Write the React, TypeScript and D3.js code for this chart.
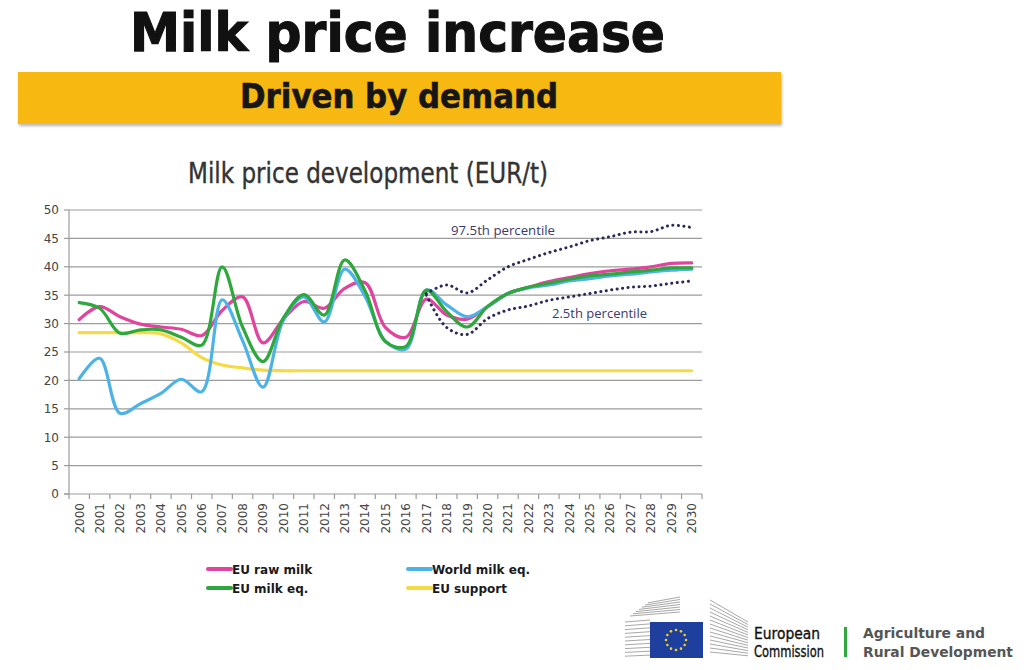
import React from 'react';
import * as d3 from 'd3';

const years = [2000, 2001, 2002, 2003, 2004, 2005, 2006, 2007, 2008, 2009, 2010, 2011, 2012, 2013, 2014, 2015, 2016, 2017, 2018, 2019, 2020, 2021, 2022, 2023, 2024, 2025, 2026, 2027, 2028, 2029, 2030];

const euRawMilk = [30.7, 33.0, 31.2, 29.9, 29.4, 29.0, 27.9, 32.3, 34.7, 26.6, 30.8, 33.9, 32.7, 36.2, 37.2, 29.3, 27.6, 34.3, 31.5, 30.8, 33.0, 35.3, 36.4, 37.4, 38.1, 38.8, 39.3, 39.6, 40.0, 40.6, 40.7];
const worldMilkEq = [20.3, 23.9, 14.2, 15.9, 17.7, 20.2, 18.0, 34.2, 27.0, 18.8, 30.6, 34.7, 30.3, 39.6, 34.8, 26.9, 25.5, 35.9, 33.3, 31.2, 33.0, 35.3, 36.3, 36.8, 37.5, 37.9, 38.4, 38.7, 39.1, 39.4, 39.6];
const euMilkEq = [33.7, 32.7, 28.3, 28.9, 28.9, 27.6, 26.2, 40.0, 29.4, 23.3, 31.0, 35.1, 31.5, 41.2, 35.8, 26.8, 26.0, 35.9, 32.1, 29.4, 33.0, 35.3, 36.4, 37.1, 37.8, 38.4, 38.7, 39.1, 39.4, 39.8, 39.8];
const euSupport = [28.4, 28.4, 28.4, 28.4, 28.2, 26.6, 24.0, 22.7, 22.2, 21.8, 21.7, 21.7, 21.7, 21.7, 21.7, 21.7, 21.7, 21.7, 21.7, 21.7, 21.7, 21.7, 21.7, 21.7, 21.7, 21.7, 21.7, 21.7, 21.7, 21.7, 21.7];

const pctYears = [2017, 2018, 2019, 2020, 2021, 2022, 2023, 2024, 2025, 2026, 2027, 2028, 2029, 2030];
const p975 = [35.3, 36.8, 35.4, 37.7, 40.0, 41.3, 42.5, 43.5, 44.6, 45.3, 46.1, 46.2, 47.3, 46.9];
const p025 = [35.0, 29.3, 28.1, 30.9, 32.4, 33.1, 34.1, 34.7, 35.3, 35.9, 36.4, 36.6, 37.1, 37.5];

const yTicks = [0, 5, 10, 15, 20, 25, 30, 35, 40, 45, 50];

const seriesNames = ['EU raw milk', 'World milk eq.', 'EU milk eq.', 'EU support'];
const seriesColors = ['#e0449e', '#4db3e6', '#2ea83c', '#f6da45'];

export default function App() {
  const W = 1024, H = 670;
  const x = d3.scaleBand<number>().domain(years).range([69, 702]).paddingInner(0).paddingOuter(0);
  const cx = (yr: number) => (x(yr) as number) + x.bandwidth() / 2;
  const y = d3.scaleLinear().domain([0, 50]).range([494, 210]);

  const mk = (xs: number[]) =>
    d3.line<number>().x((_, i) => cx(xs[i])).y((d) => y(d)).curve(d3.curveCatmullRom.alpha(0.5));

  const mainLine = mk(years);
  const pctLine = mk(pctYears);

  const series = [euRawMilk, worldMilkEq, euMilkEq, euSupport];
  const drawOrder = [3, 0, 1, 2];

  const axisFont = 'DejaVu Sans, Verdana, sans-serif';
  const boundaries = [...years.map((yr) => x(yr) as number), 702];

  const legendItems = [
    { i: 0, lx: 208, ly: 569 },
    { i: 1, lx: 408, ly: 569 },
    { i: 2, lx: 208, ly: 588 },
    { i: 3, lx: 408, ly: 588 },
  ];

  const stars = d3.range(12).map((k) => {
    const a = (k / 12) * Math.PI * 2;
    return { sx: 676 + Math.sin(a) * 10, sy: 640 - Math.cos(a) * 10 };
  });

  return (
    <svg width={W} height={H} style={{ position: 'absolute', left: 0, top: 0, background: '#fff' }}>
      <defs>
        <filter id="sh" x="-5%" y="-20%" width="110%" height="160%">
          <feGaussianBlur stdDeviation="1.5" />
        </filter>
      </defs>
      <rect x={0} y={0} width={W} height={H} fill="#fff" />

      {/* Title */}
      <text x={130} y={51} fontFamily="DejaVu Sans, sans-serif" fontWeight={700}
        fontSize={54} fill="#111" stroke="#111" strokeWidth={1.2} textLength={535} lengthAdjust="spacingAndGlyphs">Milk price increase</text>

      {/* Banner */}
      <rect x={19} y={74} width={763} height={52} fill="#999" filter="url(#sh)" opacity={0.7} />
      <rect x={18} y={72} width={763} height={52} fill="#f6b811" />
      <text x={240} y={108} fontFamily="DejaVu Sans, sans-serif" fontWeight={700}
        fontSize={33} fill="#161616" stroke="#161616" strokeWidth={0.6} textLength={318} lengthAdjust="spacingAndGlyphs">Driven by demand</text>

      {/* Subtitle */}
      <text x={188} y={183} fontFamily="DejaVu Sans, sans-serif"
        fontSize={29} fill="#333" stroke="#333" strokeWidth={0.4} textLength={360} lengthAdjust="spacingAndGlyphs">Milk price development (EUR/t)</text>

      {/* Gridlines */}
      {yTicks.map((t) => (
        <g key={t}>
          {t > 0 && <line x1={69} x2={702} y1={y(t)} y2={y(t)} stroke="#9c9c9c" strokeWidth={1.2} />}
          <line x1={64} x2={69} y1={y(t)} y2={y(t)} stroke="#9c9c9c" strokeWidth={1.2} />
          <text x={59} y={y(t)} dy="0.36em" textAnchor="end" fontFamily={axisFont} fontSize={12} fill="#444">{t}</text>
        </g>
      ))}
      <line x1={69} x2={69} y1={210} y2={494} stroke="#9c9c9c" strokeWidth={1.2} />
      <line x1={64} x2={702} y1={494} y2={494} stroke="#9c9c9c" strokeWidth={1.2} />
      {boundaries.map((b, i) => (
        <line key={i} x1={b} x2={b} y1={494} y2={499} stroke="#9c9c9c" strokeWidth={1.2} />
      ))}
      {years.map((yr) => (
        <text key={yr} transform={`translate(${cx(yr)},503) rotate(-90)`} dy="0.36em" textAnchor="end"
          fontFamily={axisFont} fontSize={12} fill="#444">{yr}</text>
      ))}

      {/* Series */}
      {drawOrder.map((i) => (
        <path key={i} d={mainLine(series[i]) as string} fill="none" stroke={seriesColors[i]}
          strokeWidth={3.2} strokeLinejoin="round" strokeLinecap="round" />
      ))}

      {/* Percentiles */}
      {[p975, p025].map((p, k) => (
        <path key={k} d={pctLine(p) as string} fill="none" stroke="#2a2a5c" strokeWidth={3}
          strokeDasharray="0.1 5.4" strokeLinecap="round" />
      ))}
      <text x={451} y={235} fontFamily="Open Sans, sans-serif" fontSize={12.5} fill="#3a3a6e"
        textLength={104} lengthAdjust="spacingAndGlyphs">97.5th percentile</text>
      <text x={552} y={318} fontFamily="Open Sans, sans-serif" fontSize={12.5} fill="#3a3a6e"
        textLength={95} lengthAdjust="spacingAndGlyphs">2.5th percentile</text>

      {/* Legend */}
      {legendItems.map(({ i, lx, ly }) => (
        <g key={i}>
          <line x1={lx} x2={lx + 23} y1={ly} y2={ly} stroke={seriesColors[i]} strokeWidth={4} strokeLinecap="round" />
          <text x={lx + 24} y={ly + 4.5} fontFamily={axisFont} fontWeight={700} fontSize={12} fill="#1a1a1a">
            {seriesNames[i]}
          </text>
        </g>
      ))}

      {/* Logo: buildings */}
      <g stroke="#a8a8a8" strokeWidth={1}>
        {d3.range(10).map((k) => (
          <line key={'l' + k} x1={625} x2={650} y1={622 + k * 3.8} y2={620 + k * 3.9} />
        ))}
        {d3.range(7).map((k) => (
          <line key={'t' + k} x1={630 + k * 3} x2={680} y1={616 - k * 2.2} y2={612 - k * 2.5} />
        ))}
        {d3.range(14).map((k) => (
          <line key={'r' + k} x1={710} x2={748} y1={600 + k * 4} y2={622 + k * 2.6} />
        ))}
      </g>
      <rect x={650} y={622} width={53} height={36} fill="#1f3f9e" />
      {stars.map((s, k) => (
        <circle key={k} cx={s.sx} cy={s.sy} r={1.3} fill="#f4d21c" />
      ))}
      <text x={754} y={639} fontFamily="DejaVu Sans, sans-serif" fontSize={15} fill="#111" stroke="#111" strokeWidth={0.35}
        textLength={66} lengthAdjust="spacingAndGlyphs">European</text>
      <text x={754} y={657} fontFamily="DejaVu Sans, sans-serif" fontSize={15} fill="#111" stroke="#111" strokeWidth={0.35}
        textLength={70} lengthAdjust="spacingAndGlyphs">Commission</text>
      <rect x={844} y={627} width={3} height={30} fill="#2ea83c" />
      <text x={863} y={638} fontFamily={axisFont} fontWeight={700} fontSize={13.5} fill="#555"
        textLength={122} lengthAdjust="spacingAndGlyphs">Agriculture and</text>
      <text x={863} y={657} fontFamily={axisFont} fontWeight={700} fontSize={13.5} fill="#555"
        textLength={150} lengthAdjust="spacingAndGlyphs">Rural Development</text>
    </svg>
  );
}
